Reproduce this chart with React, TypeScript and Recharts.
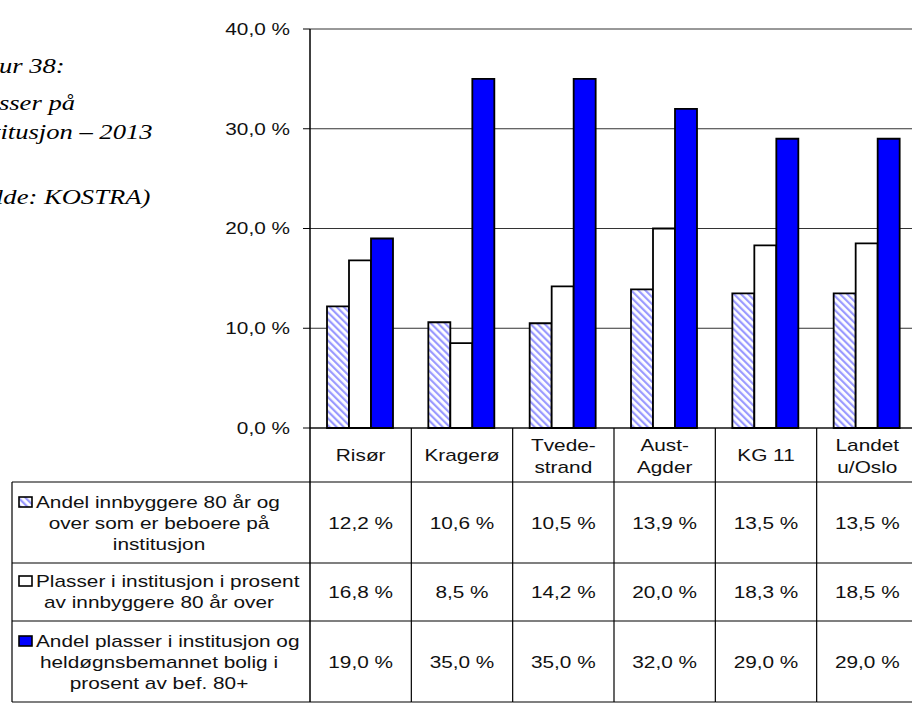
import React from 'react';
import { BarChart, Bar, XAxis, YAxis, CartesianGrid } from 'recharts';

const categories = ['Risør', 'Kragerø', 'Tvede-\nstrand', 'Aust-\nAgder', 'KG 11', 'Landet\nu/Oslo'];
const beboere = [12.2, 10.6, 10.5, 13.9, 13.5, 13.5];
const plasserInst = [16.8, 8.5, 14.2, 20.0, 18.3, 18.5];
const plasserBolig = [19.0, 35.0, 35.0, 32.0, 29.0, 29.0];
const yTicks = [0, 10, 20, 30, 40];
const seriesLabels = [
  ['Andel innbyggere 80 år og', 'over som er beboere på', 'institusjon'],
  ['Plasser i institusjon i prosent', 'av innbyggere 80 år over'],
  ['Andel plasser i institusjon og', 'heldøgnsbemannet bolig i', 'prosent av bef. 80+'],
];
const titleLines = ['Figur 38:', 'Plasser på', 'institusjon – 2013', '(Kilde: KOSTRA)'];

const seriesValues = [beboere, plasserInst, plasserBolig];
const seriesFill = ['url(#hatch)', '#ffffff', '#0000ff'];

const data = categories.map((name, i) => ({
  name,
  s1: beboere[i],
  s2: plasserInst[i],
  s3: plasserBolig[i],
}));

// layout
const CHART_W = 930;
const CHART_H = 706;
const PLOT_LEFT = 310;
const PLOT_RIGHT = 918;
const BAND = (PLOT_RIGHT - PLOT_LEFT) / categories.length;
const TABLE_LEFT = 12;
const S = 1.3; // the original is stretched sideways

// offsets below the x axis
const ROWS = [0, 54, 135, 193, 274];
const VALUE_Y = [101, 170, 240];
const LEGEND_Y = [[80, 101, 122], [159, 180], [219, 240, 261]];

const fmt = (v: number) => v.toFixed(1).replace('.', ',') + ' %';

const font = '"Liberation Sans", Arial, sans-serif';

const SText = ({ x, y, anchor = 'middle', children }: any) => (
  <text
    transform={`translate(${x},${y}) scale(${S},1)`}
    textAnchor={anchor}
    fontFamily={font}
    fontSize={16}
    fill="#111"
  >
    {children}
  </text>
);

const YTick = (props: any) => {
  const { x, y, payload } = props;
  return (
    <text
      transform={`translate(${x},${y}) scale(${S},1)`}
      textAnchor="end"
      dy="0.36em"
      fontFamily={font}
      fontSize={16}
      fill="#111"
    >
      {fmt(payload.value)}
    </text>
  );
};

const TableTick = (props: any) => {
  const { x, y } = props;
  const index = props.index ?? props.payload?.index ?? 0;
  const left = x - BAND / 2;
  const right = x + BAND / 2;
  const lines = categories[index].split('\n');
  const line = { stroke: '#000', strokeWidth: 1.2 };

  return (
    <g>
      {lines.map((l, k) => (
        <SText key={k} x={x} y={y + (lines.length === 1 ? 33 : 23 + k * 22)}>
          {l}
        </SText>
      ))}
      <line x1={right} x2={right} y1={y} y2={y + ROWS[4]} {...line} />
      {ROWS.slice(1).map((r) => (
        <line key={r} x1={left} x2={right} y1={y + r} y2={y + r} {...line} />
      ))}
      {seriesValues.map((vals, s) => (
        <SText key={s} x={x} y={y + VALUE_Y[s]}>
          {fmt(vals[index])}
        </SText>
      ))}

      {index === 0 && (
        <g>
          <line x1={left} x2={left} y1={y} y2={y + ROWS[4]} stroke="#000" strokeWidth={1.5} />
          <line x1={TABLE_LEFT} x2={TABLE_LEFT} y1={y + ROWS[1]} y2={y + ROWS[4]} {...line} />
          {ROWS.slice(1).map((r) => (
            <line key={r} x1={TABLE_LEFT} x2={left} y1={y + r} y2={y + r} {...line} />
          ))}
          {seriesLabels.map((lbl, s) => (
            <g key={s}>
              <rect
                x={19}
                y={y + LEGEND_Y[s][0] - 11}
                width={13}
                height={10}
                fill={seriesFill[s]}
                stroke="#000"
                strokeWidth={1.6}
              />
              {lbl.map((t, k) =>
                k === 0 ? (
                  <SText key={k} x={36} y={y + LEGEND_Y[s][k]} anchor="start">
                    {t}
                  </SText>
                ) : (
                  <SText key={k} x={159} y={y + LEGEND_Y[s][k]}>
                    {t}
                  </SText>
                )
              )}
            </g>
          ))}
        </g>
      )}
    </g>
  );
};

export default function App() {
  const titleY = [73, 110, 139, 204];
  return (
    <div
      style={{
        position: 'absolute',
        left: 0,
        top: 0,
        width: 912,
        height: 706,
        overflow: 'hidden',
        background: '#fff',
      }}
    >
      <BarChart
        width={CHART_W}
        height={CHART_H}
        data={data}
        margin={{ top: 29, right: CHART_W - PLOT_RIGHT, left: PLOT_LEFT - 60, bottom: 0 }}
        barCategoryGap={17}
        barGap={0}
      >
        <defs>
          <pattern id="hatch" patternUnits="userSpaceOnUse" width={5} height={5} patternTransform="rotate(-45)">
            <rect width={5} height={5} fill="#ffffff" />
            <rect width={2.2} height={5} fill="#9a9aff" />
          </pattern>
        </defs>
        <CartesianGrid vertical={false} stroke="#333" />
        <XAxis
          dataKey="name"
          interval={0}
          height={CHART_H - 428}
          tickLine={false}
          tickSize={0}
          tickMargin={0}
          axisLine={{ stroke: '#000', strokeWidth: 1.2 }}
          tick={(p: any) => <TableTick {...p} />}
        />
        <YAxis
          domain={[0, 40]}
          ticks={yTicks}
          interval={0}
          width={60}
          tickSize={7}
          tickMargin={13}
          axisLine={{ stroke: '#000', strokeWidth: 1.5 }}
          tickLine={{ stroke: '#000' }}
          tick={(p: any) => <YTick {...p} />}
        />
        <Bar dataKey="s1" fill="url(#hatch)" stroke="#000" strokeWidth={1.8} isAnimationActive={false} />
        <Bar dataKey="s2" fill="#ffffff" stroke="#000" strokeWidth={1.8} isAnimationActive={false} />
        <Bar dataKey="s3" fill="#0000ff" stroke="#000" strokeWidth={1.8} isAnimationActive={false} />
      </BarChart>

      <svg width={310} height={230} style={{ position: 'absolute', left: 0, top: 0 }}>
        {titleLines.map((t, i) => (
          <text
            key={i}
            transform={`translate(-38,${titleY[i]}) scale(1.33,1)`}
            fontFamily='"Liberation Serif", "Times New Roman", serif'
            fontStyle="italic"
            fontSize={20}
            fill="#000"
          >
            {t}
          </text>
        ))}
      </svg>
    </div>
  );
}
